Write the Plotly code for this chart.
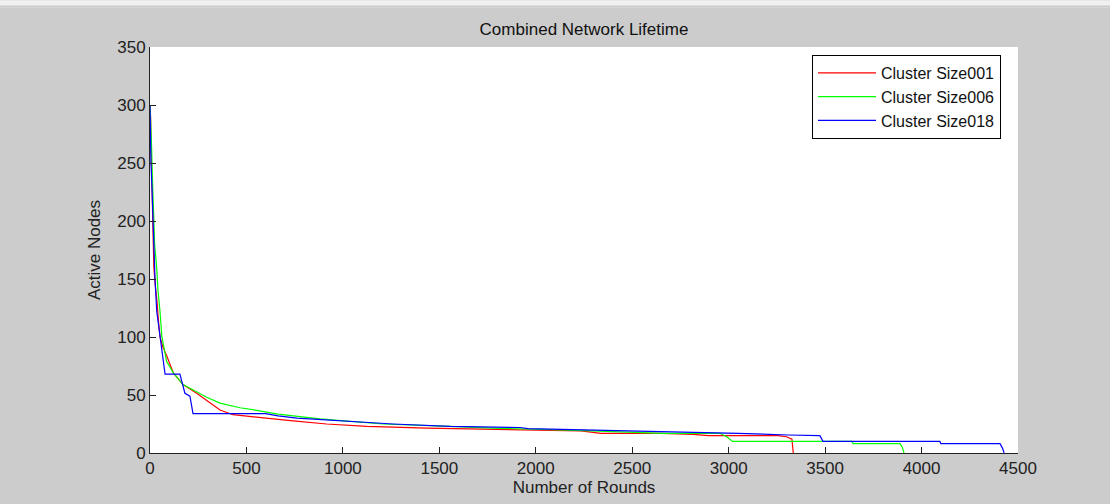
import plotly.graph_objects as go

# Cluster Size001 (red)
red_x = [0, 3, 6, 9, 12, 15, 20, 27, 35, 45, 52, 65, 86, 121, 171, 242, 294, 363, 430, 518, 605, 742, 916,
         1124, 1436, 1850, 2234, 2338, 2654, 2816, 2893, 3256, 3300, 3328, 3335]
red_y = [300, 290, 260, 235, 200, 175, 160, 145, 133, 112, 100, 92, 84, 69, 59, 51.5, 45, 37, 33, 31.5, 29.5, 27.7, 25,
         23, 21.5, 20, 19, 17, 17, 16, 15, 15, 14, 12, 0]

# Cluster Size006 (green)
green_x = [0, 5, 8, 12, 18, 24, 35, 41, 52, 61, 86, 121, 171, 294, 363, 415, 466, 560, 664, 881, 1073, 1208,
           1555, 1778, 2213, 2368, 2660, 2955, 2990, 3020, 3639, 3645, 3888, 3900, 3909]
green_y = [300, 285, 265, 240, 216, 180, 159, 141, 122, 101, 79, 69, 59, 48, 43, 41, 39, 36.6, 33.5, 29.5, 26.6, 25,
           23, 21.5, 19.5, 18.6, 17, 17, 14, 10, 10, 8, 8, 5, 0]

# Cluster Size018 (blue)
blue_x = [0, 1, 5, 10, 15, 20, 26, 35, 52, 78, 155, 171, 181, 207, 223, 600, 664, 762, 1073, 1260, 1555, 1918,
          1960, 2540, 3048, 3308, 3473, 3489, 4095, 4100, 4407, 4420, 4428]
blue_y = [300, 265, 250, 230, 200, 175, 150, 122, 100, 68, 68, 59, 51.5, 49, 34, 34, 32, 30, 27, 25, 23, 22,
          21, 19, 17, 15.5, 15, 10, 10, 8, 8, 4, 0]

x_ticks = [0, 500, 1000, 1500, 2000, 2500, 3000, 3500, 4000, 4500]
y_ticks = [0, 50, 100, 150, 200, 250, 300, 350]

FONT = "Liberation Sans, Arial, sans-serif"

fig = go.Figure()
fig.add_trace(go.Scatter(x=red_x, y=red_y, mode="lines", name="Cluster Size001",
                         line=dict(color="#ff0000", width=1.2)))
fig.add_trace(go.Scatter(x=green_x, y=green_y, mode="lines", name="Cluster Size006",
                         line=dict(color="#00ff00", width=1.2)))
fig.add_trace(go.Scatter(x=blue_x, y=blue_y, mode="lines", name="Cluster Size018",
                         line=dict(color="#0000ff", width=1.2)))

fig.update_layout(
    width=1110, height=504,
    margin=dict(l=150, r=92, t=47, b=49),
    paper_bgcolor="#cccccc",
    plot_bgcolor="#ffffff",
    font=dict(family=FONT, size=17, color="#222222"),
    title=dict(text="Combined Network Lifetime", x=(150 + 1018) / 2 / 1110, xanchor="center",
               y=1 - 29 / 504, yanchor="middle", font=dict(size=17, color="#111111")),
    showlegend=True,
    legend=dict(x=(812 - 150) / 868, y=1 - (55 - 47) / 408, xanchor="left", yanchor="top",
                bgcolor="#ffffff", bordercolor="#000000", borderwidth=1,
                font=dict(size=16, color="#111111"), tracegroupgap=0,
                itemwidth=58),
    xaxis=dict(range=[0, 4500], tickvals=x_ticks, ticks="inside", ticklen=6,
               tickcolor="#222222", showline=True, linecolor="#222222", linewidth=1,
               showgrid=False, zeroline=False, mirror=False,
               title=dict(text="Number of Rounds", standoff=2, font=dict(size=17))),
    yaxis=dict(range=[0, 350], tickvals=y_ticks, ticks="inside", ticklen=6,
               tickcolor="#222222", showline=True, linecolor="#222222", linewidth=1,
               showgrid=False, zeroline=False, mirror=False,
               title=dict(text="Active Nodes", standoff=12, font=dict(size=17))),
    shapes=[
        dict(type="rect", xref="paper", yref="paper", x0=-0.2, x1=1.2,
             y0=1 + (47 - 7) / 408, y1=1 + 47 / 408, fillcolor="#f0f0f0", line=dict(width=0),
             layer="below"),
        dict(type="line", xref="paper", yref="paper", x0=-0.2, x1=1.2,
             y0=1 + (47 - 6) / 408, y1=1 + (47 - 6) / 408, line=dict(color="#b8b8b8", width=1)),
    ],
)

fig.write_html("out.html", config={"displayModeBar": False},
               post_script="document.body.style.margin='0';document.body.style.padding='0';"
                           "document.body.style.overflow='hidden';")
